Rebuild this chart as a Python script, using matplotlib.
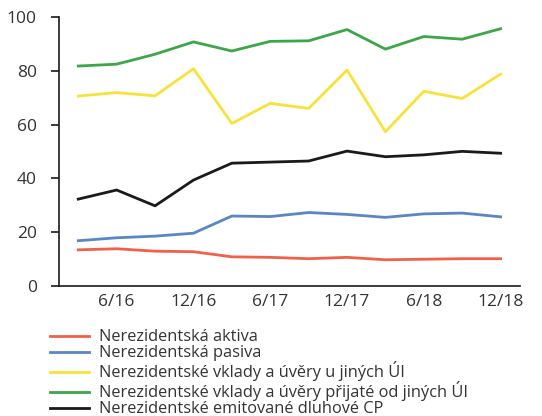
import matplotlib
matplotlib.use("Agg")
import matplotlib.pyplot as plt

plt.rcParams['font.family'] = ['Open Sans', 'DejaVu Sans']

quarters = ["3/16", "6/16", "9/16", "12/16", "3/17", "6/17", "9/17", "12/17",
            "3/18", "6/18", "9/18", "12/18"]

aktiva = [13.4, 13.8, 12.9, 12.7, 10.8, 10.6, 10.1, 10.6, 9.7, 9.9, 10.1, 10.1]
pasiva = [16.8, 17.9, 18.5, 19.6, 26.0, 25.8, 27.3, 26.6, 25.5, 26.8, 27.1, 25.7]
vklady_u = [70.7, 72.0, 70.8, 80.9, 60.5, 68.0, 66.1, 80.4, 57.4, 72.5, 69.8, 78.9]
vklady_prijate = [81.9, 82.6, 86.3, 90.9, 87.5, 91.1, 91.3, 95.5, 88.2, 92.9, 91.9, 95.8]
emitovane_cp = [32.3, 35.7, 29.8, 39.4, 45.7, 46.1, 46.5, 50.2, 48.1, 48.8, 50.1, 49.4]

series = [
    (aktiva, "Nerezidentská aktiva", "#f0604b"),
    (pasiva, "Nerezidentská pasiva", "#5a86c4"),
    (vklady_u, "Nerezidentské vklady a úvěry u jiných ÚI", "#f8e23a"),
    (vklady_prijate, "Nerezidentské vklady a úvěry přijaté od jiných ÚI", "#3ca648"),
    (emitovane_cp, "Nerezidentské emitované dluhové CP", "#1a1a1a"),
]

fig = plt.figure(figsize=(5.42, 4.16), dpi=100)
ax = fig.add_axes([0.109, 0.313, 0.850, 0.645])

x = range(len(quarters))
for values, label, color in series:
    ax.plot(x, values, color=color, linewidth=2.0, label=label)

ax.set_xlim(-0.5, len(quarters) - 0.5)
ax.set_ylim(0, 100)
ax.set_yticks([0, 20, 40, 60, 80, 100])
ax.set_xticks(list(x)[1::2])
ax.set_xticklabels(quarters[1::2])

for side in ("top", "right"):
    ax.spines[side].set_visible(False)
for side in ("left", "bottom"):
    ax.spines[side].set_color("#1a1a1a")
    ax.spines[side].set_linewidth(1.2)

ax.tick_params(axis="y", length=6, width=1.2, color="#1a1a1a", labelsize=12.5,
               labelcolor="#333333", pad=10)
ax.tick_params(axis="x", length=0, labelsize=12.5, labelcolor="#333333", pad=6)

leg = fig.legend(loc="upper left", bbox_to_anchor=(0.092, 0.208), frameon=False,
                 fontsize=11.8, handlelength=2.4, handletextpad=0.6,
                 labelspacing=0.0, borderpad=0, borderaxespad=0)
for t in leg.get_texts():
    t.set_color("#333333")

fig.savefig("out.png", dpi=100)
